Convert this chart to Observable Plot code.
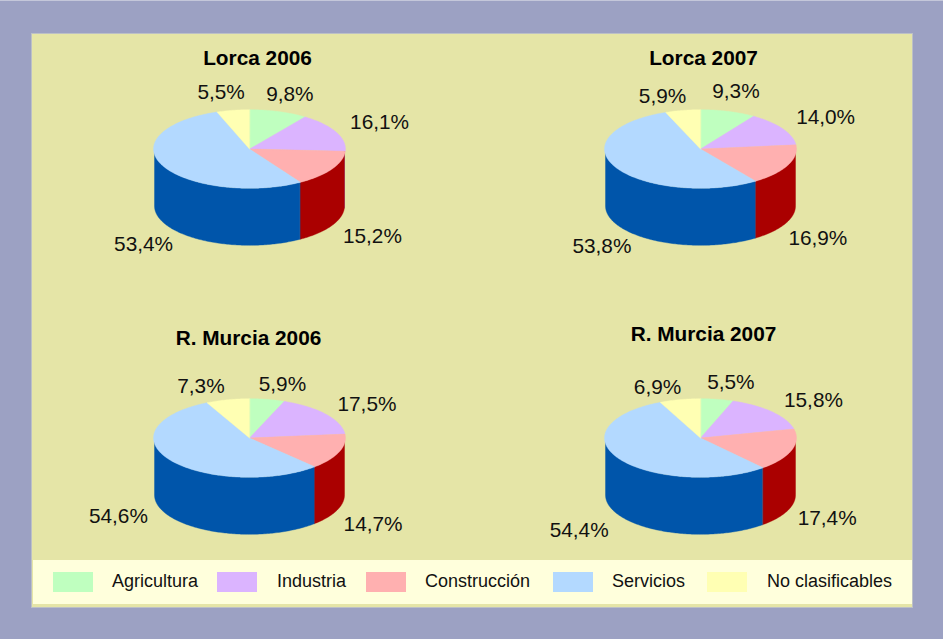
<!DOCTYPE html>
<html lang="es">
<head>
<meta charset="utf-8">
<script src="https://cdn.jsdelivr.net/npm/d3@7"></script>
<script src="https://cdn.jsdelivr.net/npm/@observablehq/plot@0.6"></script>
<style>
  html, body { margin: 0; padding: 0; background: #9ca1c3; width: 943px; height: 639px; overflow: hidden; }
  #edge { position: absolute; left: 0; top: 0; width: 943px; height: 1px; background: #c4c7da; }
  #panel { position: absolute; left: 31px; top: 33px; width: 880px; height: 573px; background: #e5e5a7; border: 1px solid #bcc0c6; }
  #chart { position: absolute; left: 0; top: 0; }
  #chart svg { display: block; background: transparent; }
  #legend { position: absolute; left: 1px; top: 526px; width: 879px; height: 44px; background: #ffffdc; font: 18px "Liberation Sans", Arial, sans-serif; color: #111; }
  #legend i { position: absolute; top: 12px; width: 40px; height: 20px; }
  #legend span { position: absolute; top: 11px; line-height: 21px; white-space: nowrap; }
</style>
</head>
<body>
<div id="edge"></div>
<div id="panel"><div id="chart"></div><div id="legend"></div></div>
<script>
const categories = ["Agricultura", "Industria", "Construcción", "Servicios", "No clasificables"];
const topColors = ["#bfffbf", "#dbb4ff", "#ffb0b0", "#b3d9ff", "#ffffb3"];
const wallColors = ["#4faa4f", "#7a3fb0", "#aa0000", "#0055aa", "#aaaa40"];

const pieTitles = ["Lorca 2006", "Lorca 2007", "R. Murcia 2006", "R. Murcia 2007"];
const lorca2006 = [9.8, 16.1, 15.2, 53.4, 5.5];
const lorca2007 = [9.3, 14.0, 16.9, 53.8, 5.9];
const murcia2006 = [5.9, 17.5, 14.7, 54.6, 7.3];
const murcia2007 = [5.5, 15.8, 17.4, 54.4, 6.9];
const pieValues = [lorca2006, lorca2007, murcia2006, murcia2007];

// Layout, kept apart from the data
const pieCx = [249, 700, 249, 700];
const pieCy = [148.5, 148.5, 437.5, 437.5];
const titleX = [257, 703, 248, 703];
const titleY = [58, 58, 338, 334];
const rx = 96, ry = 39.3, depth = 57, wallRx = 95;
const labelRx = 130, labelRy = 58;
const labelNudge = [
  [[0, 0], [12, -2], [10, 0], [10, 12], [-7, 0]],
  [[-3, -3], [13, -2], [-2, 8], [15, 12], [-15, 4]],
  [[8, 3], [13, 1], [1, 8], [-25, -12], [-20, 4]],
  [[7, 1], [15, 0], [2, 5], [-13, 3], [-16, 5]]
];
const legendSwatchX = [20, 184, 333, 520, 674];
const legendTextX = [79, 244, 392, 579, 734];

const rad = d => d * Math.PI / 180;
const topPolys = [], wallPolys = [], labels = [], titles = [];

pieValues.forEach((vals, p) => {
  const total = d3.sum(vals), cx = pieCx[p], cy = pieCy[p];
  let cum = 0;
  titles.push({x: titleX[p], y: titleY[p], text: pieTitles[p]});
  vals.forEach((v, c) => {
    const a0 = cum / total * 360, a1 = (cum + v) / total * 360, mid = (a0 + a1) / 2;
    cum += v;
    const id = p + "-" + c;
    const arc = (from, to, r, yBase) => {
      const n = Math.max(1, Math.ceil((to - from) / 1));
      return d3.range(n + 1).map(i => {
        const t = rad(from + (to - from) * i / n);
        return {id, color: null, x: cx + r * Math.sin(t), y: yBase - ry * Math.cos(t)};
      });
    };
    // top slice
    [{id, x: cx, y: cy}, ...arc(a0, a1, rx, cy)].forEach(pt => topPolys.push({...pt, id, color: topColors[c]}));
    // visible wall: the part of the slice on the front half
    const w0 = Math.max(a0, 90), w1 = Math.min(a1, 270);
    if (w1 > w0) {
      [...arc(w0, w1, wallRx, cy), ...arc(w0, w1, wallRx, cy + depth).reverse()]
        .forEach(pt => wallPolys.push({...pt, id, color: wallColors[c]}));
    }
    // label
    const t = rad(mid), [nx, ny] = labelNudge[p][c];
    labels.push({
      x: cx + 1 + labelRx * Math.sin(t) + nx,
      y: cy + 0.5 - labelRy * Math.cos(t) + (Math.cos(t) < 0 ? depth : 0) + ny,
      text: v.toFixed(1).replace(".", ",") + "%"
    });
  });
});

const font = '"Liberation Sans", Arial, sans-serif';
const chart = Plot.plot({
  width: 880,
  height: 526,
  margin: 0,
  style: {background: "transparent", overflow: "visible"},
  x: {axis: null, domain: [32, 912], range: [0, 880]},
  y: {axis: null, domain: [34, 560], range: [0, 526]},
  color: {type: "identity"},
  marks: [
    Plot.line(wallPolys, {x: "x", y: "y", z: "id", fill: "color", stroke: "color", strokeWidth: 0.4, curve: "linear-closed"}),
    Plot.line(topPolys, {x: "x", y: "y", z: "id", fill: "color", stroke: "color", strokeWidth: 0.4, curve: "linear-closed"}),
    Plot.text(titles, {x: "x", y: "y", text: "text", fontSize: 20.8, fontWeight: "bold", fontFamily: font, fill: "#000"}),
    Plot.text(labels, {x: "x", y: "y", text: "text", fontSize: 20.8, fontFamily: font, fill: "#111"})
  ]
});
document.getElementById("chart").appendChild(chart);

const legend = document.getElementById("legend");
categories.forEach((name, i) => {
  const sw = document.createElement("i");
  sw.style.left = legendSwatchX[i] + "px";
  sw.style.background = topColors[i];
  legend.appendChild(sw);
  const tx = document.createElement("span");
  tx.style.left = legendTextX[i] + "px";
  tx.textContent = name;
  legend.appendChild(tx);
});
</script>
</body>
</html>
